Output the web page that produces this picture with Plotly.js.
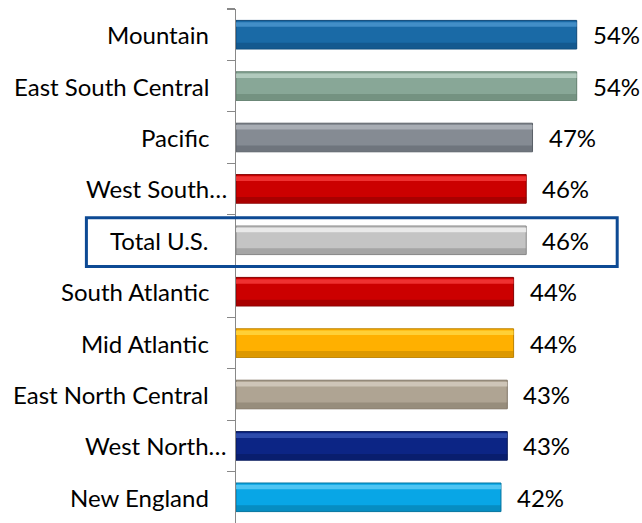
<!DOCTYPE html>
<html>
<head>
<meta charset="utf-8">
<script src="https://cdn.plot.ly/plotly-3.0.1.min.js"></script>
<style>html,body{margin:0;padding:0;background:#fff;}#chart{width:642px;height:523px;}</style>
</head>
<body>
<div id="chart"></div>
<script>
// Data
const regions = ["Mountain", "East South Central", "Pacific", "West South…", "Total U.S.", "South Atlantic", "Mid Atlantic", "East North Central", "West North…", "New England"];
const shares = [54, 54, 47, 46, 46, 44, 44, 43, 43, 42];
const valueLabels = ["54%", "54%", "47%", "46%", "46%", "44%", "44%", "43%", "43%", "42%"];
const highlightRegion = "Total U.S.";

// Styles
const baseColors  = ["#1A6AA6", "#88A797", "#858B93", "#CC0000", "#C4C4C4", "#CC0000", "#FFB000", "#AFA493", "#0C2585", "#08A6E6"];
const lightColors = ["#4A94CC", "#B8D0C3", "#AEB3BA", "#F53A3A", "#F0F0F0", "#F53A3A", "#FFD640", "#D3CBBE", "#3452B2", "#5ACAF5"];
const darkColors  = ["#0E4878", "#5F7D6C", "#5A6067", "#850000", "#858585", "#850000", "#B98000", "#807565", "#061858", "#04749E"];
const FONT = "Lato, 'Liberation Sans', Arial, sans-serif";

const BW = 0.556;
const traces = [
  { type: "bar", orientation: "h", y: regions, x: shares, width: BW, offset: -BW/2,
    marker: { color: baseColors, line: { color: darkColors, width: 1 } }, hoverinfo: "skip" },
  { type: "bar", orientation: "h", y: regions, x: shares, width: BW*0.16, offset: -BW/2 + BW*0.06,
    marker: { color: lightColors, opacity: 0.85, line: { width: 0 } }, hoverinfo: "skip" },
  { type: "bar", orientation: "h", y: regions, x: shares, width: BW*0.2, offset: BW/2 - BW*0.22,
    marker: { color: darkColors, opacity: 0.5, line: { width: 0 } }, hoverinfo: "skip" }
];

const annotations = [];
regions.forEach((r, i) => {
  annotations.push({ x: 0, xref: "paper", y: r, yref: "y", text: r, showarrow: false,
    xanchor: "right", yanchor: "middle", xshift: r.endsWith("…") ? -7 : -25,
    font: { family: FONT, size: 24, color: "#000" } });
  annotations.push({ x: shares[i], xref: "x", y: r, yref: "y", text: valueLabels[i], showarrow: false,
    xanchor: "left", yanchor: "middle", xshift: 14,
    font: { family: FONT, size: 24, color: "#000" } });
});

const hi = regions.indexOf(highlightRegion);
const layout = {
  width: 642, height: 523,
  margin: { l: 236, r: 6, t: 9, b: 0, pad: 0 },
  paper_bgcolor: "#fff", plot_bgcolor: "#fff",
  barmode: "overlay", showlegend: false,
  xaxis: { range: [0, 63.4], visible: false, fixedrange: true },
  yaxis: { type: "category", autorange: "reversed", showline: true, linecolor: "#888888", linewidth: 1.3,
    ticks: "outside", ticklen: 8, tickcolor: "#888888", tickwidth: 1.3, tickson: "boundaries",
    showticklabels: false, showgrid: false, zeroline: false, fixedrange: true },
  annotations: annotations,
  shapes: [{ type: "rect", xref: "paper", yref: "y", x0: -0.374, x1: 0.953, y0: hi - 0.44, y1: hi + 0.51,
    line: { color: "#0D4A94", width: 3 }, fillcolor: "rgba(0,0,0,0)", layer: "above" }]
};

Plotly.newPlot("chart", traces, layout, { staticPlot: true, displayModeBar: false });
</script>
</body>
</html>
